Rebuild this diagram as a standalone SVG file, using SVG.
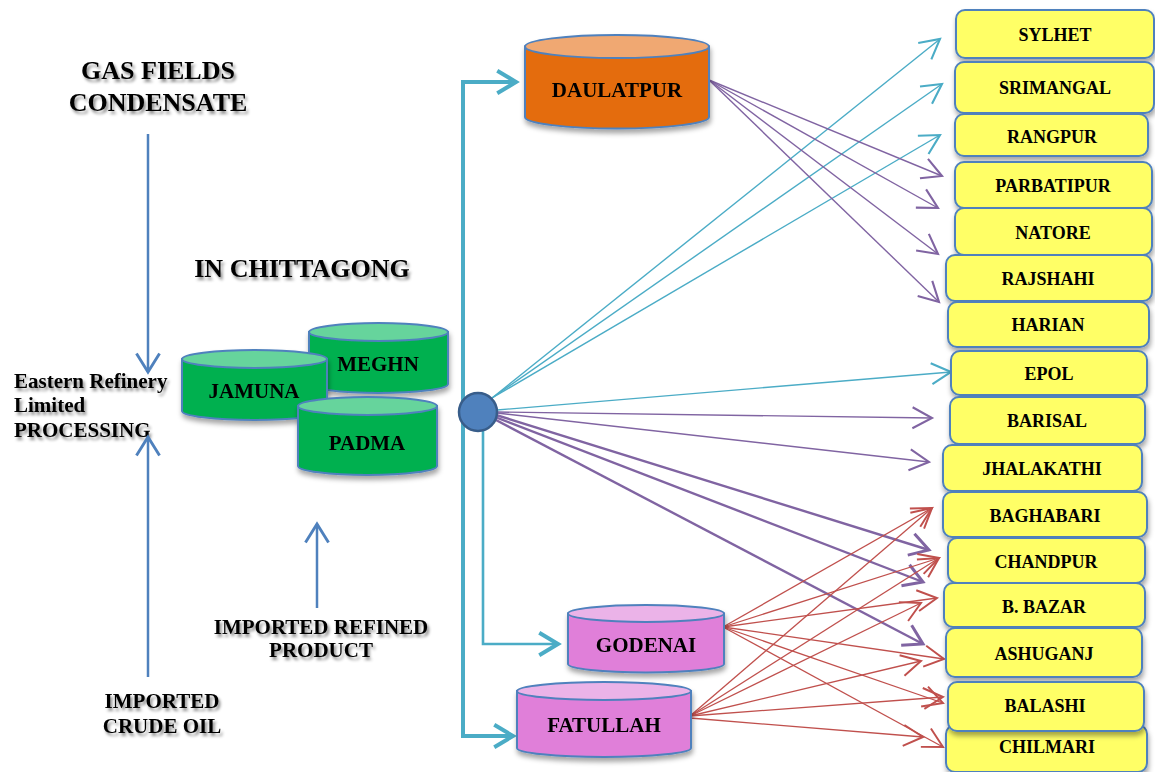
<svg xmlns="http://www.w3.org/2000/svg" width="1155" height="772" viewBox="0 0 1155 772">
<defs>
<filter id="ts" x="-10%" y="-30%" width="130%" height="180%"><feDropShadow dx="2" dy="3" stdDeviation="1.6" flood-color="#000" flood-opacity="0.45"/></filter>
<filter id="ss" x="-10%" y="-20%" width="130%" height="160%"><feDropShadow dx="1" dy="4" stdDeviation="2.5" flood-color="#000" flood-opacity="0.35"/></filter>
<marker id="aT" markerUnits="userSpaceOnUse" markerWidth="30" markerHeight="30" refX="0" refY="0" viewBox="-16 -10 20 20" orient="auto" overflow="visible"><path d="M-13,-7 L0,0 L-13,7" fill="none" stroke="#4BACC6" stroke-width="1.4"/></marker>
<marker id="aP" markerUnits="userSpaceOnUse" markerWidth="30" markerHeight="30" refX="0" refY="0" viewBox="-16 -10 20 20" orient="auto" overflow="visible"><path d="M-13,-7 L0,0 L-13,7" fill="none" stroke="#8064A2" stroke-width="1.4"/></marker>
<marker id="aP2" markerUnits="userSpaceOnUse" markerWidth="30" markerHeight="30" refX="0" refY="0" viewBox="-18 -12 22 24" orient="auto" overflow="visible"><path d="M-15,-9 L0,0 L-15,9" fill="none" stroke="#8064A2" stroke-width="2.4"/></marker>
<marker id="aR" markerUnits="userSpaceOnUse" markerWidth="30" markerHeight="30" refX="0" refY="0" viewBox="-16 -10 20 20" orient="auto" overflow="visible"><path d="M-13,-7 L0,0 L-13,7" fill="none" stroke="#C0504D" stroke-width="1.3"/></marker>
<marker id="aTT" markerUnits="userSpaceOnUse" markerWidth="30" markerHeight="30" refX="0" refY="0" viewBox="-18 -12 22 24" orient="auto" overflow="visible"><path d="M-15,-9 L0,0 L-15,9" fill="none" stroke="#4BACC6" stroke-width="3.2"/></marker>
<marker id="aB" markerUnits="userSpaceOnUse" markerWidth="30" markerHeight="30" refX="0" refY="0" viewBox="-20 -13 24 26" orient="auto" overflow="visible"><path d="M-16,-10 L0,0 L-16,10" fill="none" stroke="#4F81BD" stroke-width="2.5"/></marker>
</defs>
<style>
.lbl{font-family:"Liberation Serif","Times New Roman",serif;font-weight:bold;fill:#000}
.big{font-size:26px;filter:url(#ts)}
.mid{font-size:21px;filter:url(#ts)}
.cyl{font-size:21px}
.box{font-size:18px}
.bx{fill:#FFFF66;stroke:#4F81BD;stroke-width:2;filter:url(#ss)}
.cs{stroke:#4F81BD;stroke-width:2}
.g1{fill:#00B050}.g2{fill:#66D49C}
.o1{fill:#E46C0A}.o2{fill:#F0A872}
.m1{fill:#E07FD9}.m2{fill:#EBB3E8}
.ct{fill:none;stroke:#4BACC6;stroke-width:1.4}
.cp{fill:none;stroke:#8064A2;stroke-width:1.4}
.cp2{fill:none;stroke:#8064A2;stroke-width:2.4}
.cr{fill:none;stroke:#C0504D;stroke-width:1.3}
.bl{fill:none;stroke:#4F81BD;stroke-width:2.5}
</style>

<g id="labels">
<text class="lbl big" x="158" y="79" text-anchor="middle">GAS FIELDS</text>
<text class="lbl big" x="158" y="111" text-anchor="middle">CONDENSATE</text>
<text class="lbl big" x="302" y="277" text-anchor="middle">IN CHITTAGONG</text>
<text class="lbl mid" x="14" y="388">Eastern Refinery</text>
<text class="lbl mid" x="14" y="412">Limited</text>
<text class="lbl mid" x="14" y="437">PROCESSING</text>
<text class="lbl mid" x="162" y="708" text-anchor="middle">IMPORTED</text>
<text class="lbl mid" x="162" y="733" text-anchor="middle">CRUDE OIL</text>
<text class="lbl mid" x="321" y="634" text-anchor="middle">IMPORTED REFINED</text>
<text class="lbl mid" x="321" y="657" text-anchor="middle">PRODUCT</text>
</g>

<g id="connectors">
<line class="bl" x1="148" y1="134" x2="148" y2="372" marker-end="url(#aB)"/>
<line class="bl" x1="148" y1="677" x2="148" y2="437" marker-end="url(#aB)"/>
<line class="bl" x1="317" y1="608" x2="317" y2="524" marker-end="url(#aB)"/>
<polyline fill="none" stroke="#4BACC6" stroke-width="4" points="516,82 463,82 463,736 513,736"/>
<line x1="500" y1="82" x2="516" y2="82" stroke="none" marker-end="url(#aTT)"/>
<line x1="500" y1="736" x2="513" y2="736" stroke="none" marker-end="url(#aTT)"/>
<polyline fill="none" stroke="#4BACC6" stroke-width="2.6" points="483,430 483,644 558,644" marker-end="url(#aTT)"/>
<line class="ct" x1="492" y1="398" x2="940" y2="39" marker-end="url(#aT)"/>
<line class="ct" x1="492" y1="398" x2="942" y2="84" marker-end="url(#aT)"/>
<line class="ct" x1="492" y1="398" x2="940" y2="135" marker-end="url(#aT)"/>
<line class="ct" x1="497" y1="410" x2="951" y2="372" marker-end="url(#aT)"/>
<line class="cp" x1="709" y1="80" x2="942" y2="176" marker-end="url(#aP)"/>
<line class="cp" x1="709" y1="80" x2="938" y2="208" marker-end="url(#aP)"/>
<line class="cp" x1="709" y1="80" x2="938" y2="254" marker-end="url(#aP)"/>
<line class="cp" x1="709" y1="80" x2="939" y2="302" marker-end="url(#aP)"/>
<line class="cp" x1="497" y1="412" x2="932" y2="418" marker-end="url(#aP)"/>
<line class="cp" x1="497" y1="413" x2="929" y2="462" marker-end="url(#aP)"/>
<line class="cp2" x1="496" y1="415" x2="929" y2="550" marker-end="url(#aP2)"/>
<line class="cp2" x1="495" y1="417" x2="923" y2="582" marker-end="url(#aP2)"/>
<line class="cp2" x1="494" y1="419" x2="923" y2="644" marker-end="url(#aP2)"/>
<line class="cr" x1="723" y1="627" x2="932" y2="508" marker-end="url(#aR)"/>
<line class="cr" x1="723" y1="627" x2="939" y2="558" marker-end="url(#aR)"/>
<line class="cr" x1="723" y1="627" x2="937" y2="598" marker-end="url(#aR)"/>
<line class="cr" x1="723" y1="627" x2="944" y2="659" marker-end="url(#aR)"/>
<line class="cr" x1="723" y1="627" x2="943" y2="703" marker-end="url(#aR)"/>
<line class="cr" x1="723" y1="627" x2="943" y2="747" marker-end="url(#aR)"/>
<line class="cr" x1="690" y1="716" x2="932" y2="508" marker-end="url(#aR)"/>
<line class="cr" x1="690" y1="716" x2="939" y2="558" marker-end="url(#aR)"/>
<line class="cr" x1="690" y1="716" x2="921" y2="603" marker-end="url(#aR)"/>
<line class="cr" x1="690" y1="716" x2="921" y2="661" marker-end="url(#aR)"/>
<line class="cr" x1="690" y1="716" x2="943" y2="697" marker-end="url(#aR)"/>
<line class="cr" x1="690" y1="718" x2="923" y2="737" marker-end="url(#aR)"/>
</g>

<g id="hub"><circle cx="478" cy="412" r="19" fill="#4F81BD" stroke="#385D8A" stroke-width="2.5"/></g>

<g id="meghn" filter="url(#ss)">
<path class="g1 cs" d="M309,332 L309,384 A69.5,9 0 0 0 448,384 L448,332 Z"/>
<ellipse class="g2 cs" cx="378.5" cy="332" rx="69.5" ry="9"/>
<text class="lbl cyl" x="378" y="371" text-anchor="middle">MEGHN</text>
</g>
<g id="jamuna" filter="url(#ss)">
<path class="g1 cs" d="M182,359 L182,411 A72.5,9 0 0 0 327,411 L327,359 Z"/>
<ellipse class="g2 cs" cx="254.5" cy="359" rx="72.5" ry="9"/>
<text class="lbl cyl" x="254" y="398" text-anchor="middle">JAMUNA</text>
</g>
<g id="padma" filter="url(#ss)">
<path class="g1 cs" d="M298,406 L298,466 A69.5,9 0 0 0 437,466 L437,406 Z"/>
<ellipse class="g2 cs" cx="367.5" cy="406" rx="69.5" ry="9"/>
<text class="lbl cyl" x="367" y="450" text-anchor="middle">PADMA</text>
</g>
<g id="daulatpur" filter="url(#ss)">
<path class="o1 cs" d="M525,46.5 L525,117 A92,11.5 0 0 0 709,117 L709,46.5 Z"/>
<ellipse class="o2 cs" cx="617" cy="46.5" rx="92" ry="11.5"/>
<text class="lbl cyl" x="617" y="97" text-anchor="middle">DAULATPUR</text>
</g>
<g id="godenai" filter="url(#ss)">
<path class="m1 cs" d="M568,613.5 L568,664 A78,8.5 0 0 0 724,664 L724,613.5 Z"/>
<ellipse class="m2 cs" cx="646" cy="613.5" rx="78" ry="8.5"/>
<text class="lbl cyl" x="646" y="652" text-anchor="middle">GODENAI</text>
</g>
<g id="fatullah" filter="url(#ss)">
<path class="m1 cs" d="M517,691 L517,748 A87,9 0 0 0 691,748 L691,691 Z"/>
<ellipse class="m2 cs" cx="604" cy="691" rx="87" ry="9"/>
<text class="lbl cyl" x="604" y="732" text-anchor="middle">FATULLAH</text>
</g>

<g id="sylhet"><rect class="bx" x="956" y="10" width="198" height="48" rx="9"/><text class="lbl box" x="1055" y="41" text-anchor="middle">SYLHET</text></g>
<g id="srimangal"><rect class="bx" x="955" y="62" width="199" height="51" rx="9"/><text class="lbl box" x="1055" y="94" text-anchor="middle">SRIMANGAL</text></g>
<g id="rangpur"><rect class="bx" x="955" y="114" width="193" height="42" rx="9"/><text class="lbl box" x="1052" y="143" text-anchor="middle">RANGPUR</text></g>
<g id="parbatipur"><rect class="bx" x="955" y="162" width="197" height="46" rx="9"/><text class="lbl box" x="1053" y="192" text-anchor="middle">PARBATIPUR</text></g>
<g id="natore"><rect class="bx" x="955" y="208" width="197" height="47" rx="9"/><text class="lbl box" x="1053" y="239" text-anchor="middle">NATORE</text></g>
<g id="rajshahi"><rect class="bx" x="946" y="255" width="206" height="46" rx="9"/><text class="lbl box" x="1048" y="285" text-anchor="middle">RAJSHAHI</text></g>
<g id="harian"><rect class="bx" x="948" y="302" width="201" height="45" rx="9"/><text class="lbl box" x="1048" y="331" text-anchor="middle">HARIAN</text></g>
<g id="epol"><rect class="bx" x="951" y="351" width="196" height="44" rx="9"/><text class="lbl box" x="1049" y="380" text-anchor="middle">EPOL</text></g>
<g id="barisal"><rect class="bx" x="950" y="397" width="195" height="47" rx="9"/><text class="lbl box" x="1047" y="427" text-anchor="middle">BARISAL</text></g>
<g id="jhalakathi"><rect class="bx" x="943" y="445" width="199" height="46" rx="9"/><text class="lbl box" x="1042" y="475" text-anchor="middle">JHALAKATHI</text></g>
<g id="baghabari"><rect class="bx" x="943" y="492" width="204" height="45" rx="9"/><text class="lbl box" x="1045" y="522" text-anchor="middle">BAGHABARI</text></g>
<g id="chandpur"><rect class="bx" x="948" y="538" width="197" height="45" rx="9"/><text class="lbl box" x="1046" y="568" text-anchor="middle">CHANDPUR</text></g>
<g id="bbazar"><rect class="bx" x="944" y="583" width="201" height="44" rx="9"/><text class="lbl box" x="1044" y="613" text-anchor="middle">B. BAZAR</text></g>
<g id="ashuganj"><rect class="bx" x="946" y="628" width="196" height="49" rx="9"/><text class="lbl box" x="1044" y="660" text-anchor="middle">ASHUGANJ</text></g>
<g id="chilmari"><rect class="bx" x="946" y="725" width="201" height="47" rx="9"/><text class="lbl box" x="1047" y="753" text-anchor="middle">CHILMARI</text></g>
<g id="balashi"><rect class="bx" x="948" y="682" width="196" height="49" rx="9"/><text class="lbl box" x="1045" y="712" text-anchor="middle">BALASHI</text></g>
</svg>
